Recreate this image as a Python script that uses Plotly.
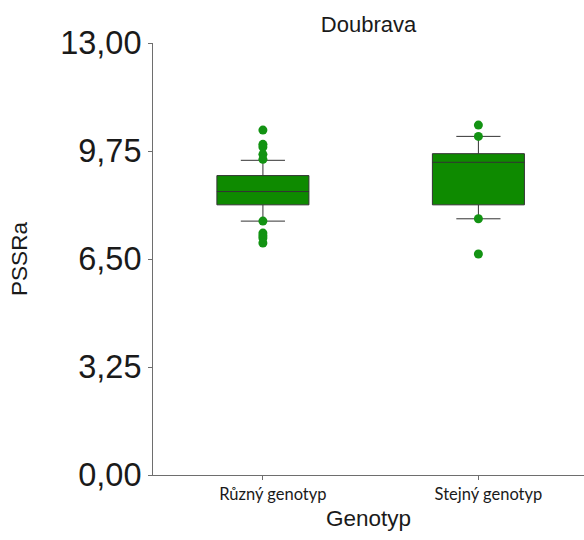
import plotly.graph_objects as go

# Box statistics per genotype group (PSSRa, Doubrava)
categories = ["Různý genotyp", "Stejný genotyp"]
q1 = [8.13, 8.13]
median = [8.53, 9.41]
q3 = [9.01, 9.67]
lower_fence = [7.64, 7.71]
upper_fence = [9.47, 10.19]

# Individual extreme observations shown as points
points_ruzny = [10.38, 9.95, 9.87, 9.65, 9.50, 7.64, 7.28, 7.20, 7.13, 6.98]
points_stejny = [10.53, 10.19, 7.71, 6.65]

y_ticks = [0, 3.25, 6.5, 9.75, 13]

box_fill = "#0e8a00"
point_color = "#139313"
sans = "Liberation Sans"

fig = go.Figure()

fig.add_trace(go.Box(
    x=categories,
    q1=q1,
    median=median,
    q3=q3,
    lowerfence=lower_fence,
    upperfence=upper_fence,
    fillcolor=box_fill,
    line=dict(color="#333333", width=1),
    whiskerwidth=0.48,
    boxpoints=False,
    showlegend=False,
    hoverinfo="y",
))

fig.add_trace(go.Scatter(
    x=[categories[0]] * len(points_ruzny) + [categories[1]] * len(points_stejny),
    y=points_ruzny + points_stejny,
    mode="markers",
    marker=dict(color=point_color, size=9),
    showlegend=False,
))

fig.update_layout(
    width=584,
    height=540,
    margin=dict(l=153, r=0, t=43, b=65),
    paper_bgcolor="white",
    plot_bgcolor="white",
    separators=", ",
    boxgap=0.39,
    font=dict(family=sans, color="#1a1a1a"),
    title=dict(
        text="Doubrava",
        font=dict(family=sans, size=22, color="#1a1a1a"),
        x=0.5, xref="paper", xanchor="center",
        y=1 - 24 / 540, yref="container", yanchor="middle",
    ),
    xaxis=dict(
        type="category",
        range=[-0.51, 1.49],
        showline=True,
        linecolor="#6e6e6e",
        linewidth=1,
        ticks="outside",
        ticklen=4,
        tickcolor="#6e6e6e",
        showgrid=False,
        zeroline=False,
        ticklabelshift=10,
        tickfont=dict(family="Lato", size=16.5, color="#1a1a1a"),
        title=dict(text="Genotyp", font=dict(family=sans, size=22.5), standoff=7),
    ),
    yaxis=dict(
        range=[0, 13],
        tickvals=y_ticks,
        tickformat=".2f",
        showline=True,
        linecolor="#6e6e6e",
        linewidth=1,
        ticks="outside",
        ticklen=4,
        tickcolor="#6e6e6e",
        showgrid=False,
        zeroline=False,
        tickfont=dict(family=sans, size=32.5, color="#1a1a1a"),
        title=dict(text="PSSRa", font=dict(family=sans, size=22.5), standoff=26),
    ),
)

fig.write_html("out.html")
